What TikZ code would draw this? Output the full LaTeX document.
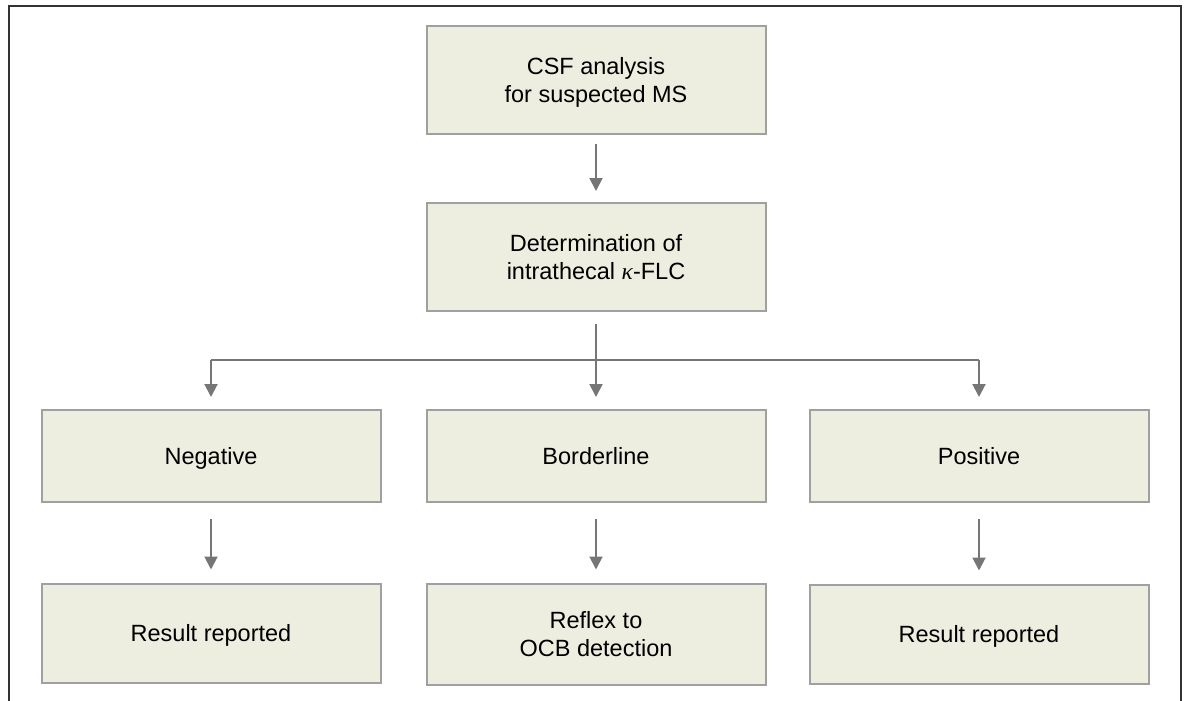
\documentclass[tikz,border=0pt]{standalone}
\usepackage{fontspec}
\setmainfont{Liberation Sans}
\newfontfamily\grkfont{Liberation Serif}
\usetikzlibrary{arrows.meta}
\definecolor{boxfill}{HTML}{EEEEE0}
\definecolor{boxline}{HTML}{A0A0A0}
\definecolor{arrcol}{HTML}{767676}
\definecolor{framecol}{HTML}{333333}
\newcommand{\mystrut}{\rule[-5pt]{0pt}{27pt}}
\begin{document}
\begin{tikzpicture}[x=1pt,y=-1pt,
  stepbox/.style={draw=boxline,fill=boxfill,line width=2pt,minimum width=339pt,
    align=center,inner sep=0pt,font=\fontsize{23.5}{28}\selectfont},
  arr/.style={draw=arrcol,line width=2pt,-{Triangle[length=13pt,width=13pt]}},
  hline/.style={draw=arrcol,line width=2pt}]
\useasboundingbox (0,0) rectangle (1186,701);
\draw[framecol,line width=2pt] (9,701) -- (9,6) -- (1181,6) -- (1181,701);
\node[stepbox,minimum height=108pt] (top) at (596,80) {\mystrut CSF analysis\\\mystrut for suspected MS};
\node[stepbox,minimum height=108pt] (det) at (596,257) {\mystrut Determination of\\\mystrut intrathecal {\grkfont\itshape κ}-FLC};
\node[stepbox,minimum height=92pt] (neg) at (211,456) {\mystrut Negative};
\node[stepbox,minimum height=92pt] (bord) at (596,456) {\mystrut Borderline};
\node[stepbox,minimum height=92pt] (pos) at (979,456) {\mystrut Positive};
\node[stepbox,minimum height=99pt] (res1) at (211,633) {\mystrut Result reported};
\node[stepbox,minimum height=101pt] (reflex) at (596,634) {\mystrut Reflex to\\\mystrut OCB detection};
\node[stepbox,minimum height=99pt] (res2) at (979,634) {\mystrut Result reported};
\coordinate (j) at (596,360);
\draw[arr,shorten <=9pt,shorten >=11pt] (top.south) -- (det.south |- det.north);
\draw[arr,shorten <=12pt,shorten >=12pt] (det.south) -- (bord.north);
\draw[hline] (neg.north |- j) -- (pos.north |- j);
\draw[arr,shorten >=12pt] (neg.north |- j) -- (neg.north);
\draw[arr,shorten >=12pt] (pos.north |- j) -- (pos.north);
\draw[arr,shorten <=16pt,shorten >=13pt] (neg.south) -- (res1.north);
\draw[arr,shorten <=16pt,shorten >=13pt] (bord.south) -- (reflex.north);
\draw[arr,shorten <=16pt,shorten >=13pt] (pos.south) -- (res2.north);
\end{tikzpicture}
\end{document}
